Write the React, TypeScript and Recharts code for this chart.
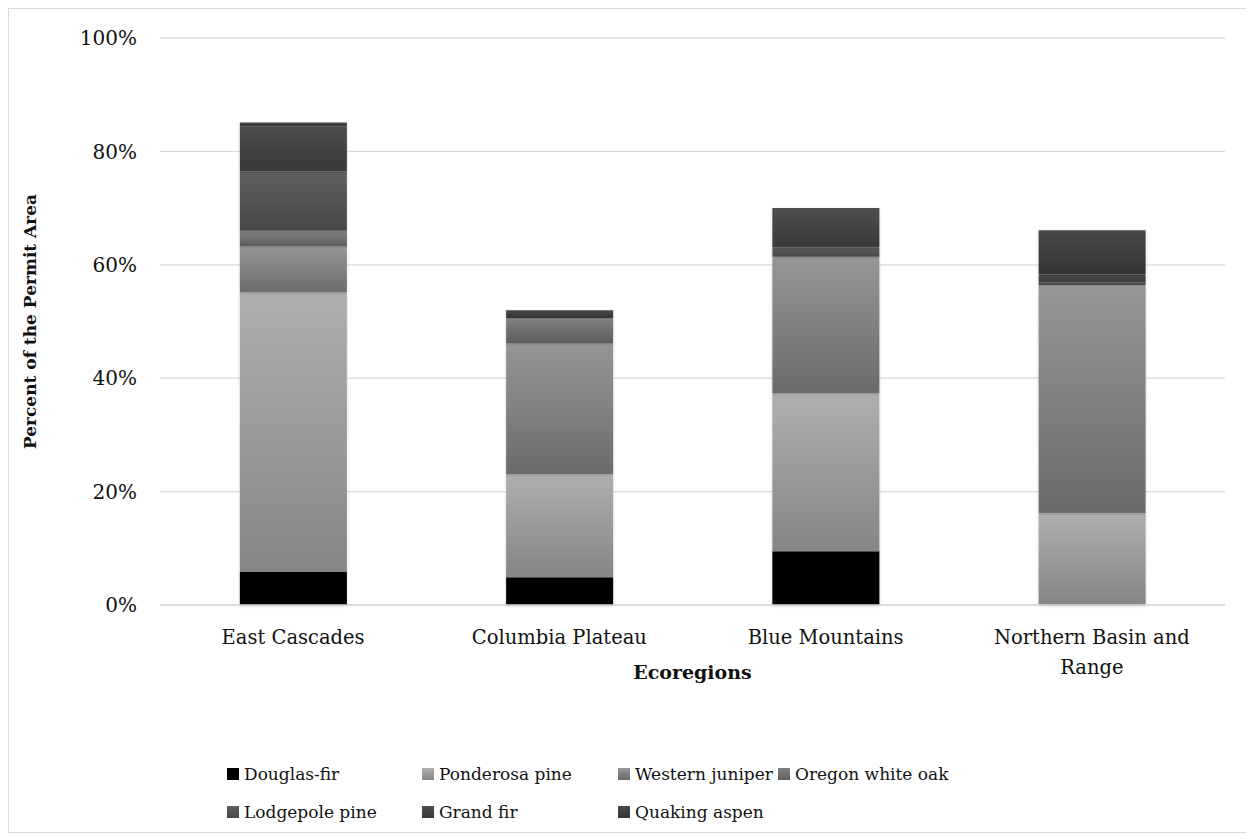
import React from "react";
import {
  Bar,
  BarChart,
  CartesianGrid,
  Label,
  Legend,
  XAxis,
  YAxis,
} from "recharts";

const regions = [
  "East Cascades",
  "Columbia Plateau",
  "Blue Mountains",
  "Northern Basin and\nRange",
];

// percent of permit area, per region, bottom of the stack first
const douglasFir = [5.8, 4.9, 9.5, 0];
const ponderosaPine = [49.4, 18.2, 27.9, 16.2];
const westernJuniper = [8.1, 23.1, 24.0, 40.2];
const oregonWhiteOak = [2.7, 4.4, 0, 0];
const lodgepolePine = [10.5, 0, 1.7, 0.5];
const grandFir = [7.9, 0, 6.9, 1.4];
const quakingAspen = [0.7, 1.4, 0, 7.8];

const yTicks = [0, 20, 40, 60, 80, 100];

const species = [
  { key: "douglasFir", name: "Douglas-fir", top: "#000000", bottom: "#000000" },
  { key: "ponderosaPine", name: "Ponderosa pine", top: "#afafaf", bottom: "#858585" },
  { key: "westernJuniper", name: "Western juniper", top: "#969696", bottom: "#6b6b6b" },
  { key: "oregonWhiteOak", name: "Oregon white oak", top: "#838383", bottom: "#5c5c5c" },
  { key: "lodgepolePine", name: "Lodgepole pine", top: "#5f5f5f", bottom: "#474747" },
  { key: "grandFir", name: "Grand fir", top: "#4d4d4d", bottom: "#393939" },
  { key: "quakingAspen", name: "Quaking aspen", top: "#484848", bottom: "#353535" },
];

const data = regions.map((region, i) => ({
  region,
  douglasFir: douglasFir[i],
  ponderosaPine: ponderosaPine[i],
  westernJuniper: westernJuniper[i],
  oregonWhiteOak: oregonWhiteOak[i],
  lodgepolePine: lodgepolePine[i],
  grandFir: grandFir[i],
  quakingAspen: quakingAspen[i],
}));

const FONT = "'DejaVu Serif', serif";
const TEXT = "#111";

function RegionTick({ x, y, payload }: any) {
  const lines = String(payload.value).split("\n");
  return (
    <text x={x} y={y} textAnchor="middle" fontFamily={FONT} fontSize={19.5} fill={TEXT}>
      {lines.map((l, i) => (
        <tspan key={i} x={x} dy={i === 0 ? 14 : 30}>
          {l}
        </tspan>
      ))}
    </text>
  );
}

function YTitle({ viewBox }: any) {
  const cx = 21;
  const cy = viewBox.y + viewBox.height / 2;
  return (
    <text
      x={cx}
      y={cy}
      transform={`rotate(-90 ${cx} ${cy})`}
      textAnchor="middle"
      dominantBaseline="central"
      fontFamily={FONT}
      fontSize={17}
      fontWeight="bold"
      fill={TEXT}
    >
      Percent of the Permit Area
    </text>
  );
}

function LegendBox() {
  const rows = [species.slice(0, 4), species.slice(4)];
  const colX = [0, 195, 391, 551];
  return (
    <div style={{ fontFamily: FONT, fontSize: 17, color: TEXT, lineHeight: "38px" }}>
      {rows.map((row, r) => (
        <div key={r} style={{ position: "relative", height: 38 }}>
          {row.map((s, c) => (
            <div
              key={s.key}
              style={{
                position: "absolute",
                left: colX[c],
                top: 0,
                height: 38,
                display: "flex",
                alignItems: "center",
                whiteSpace: "nowrap",
              }}
            >
              <span
                style={{
                  display: "inline-block",
                  width: 12,
                  height: 12,
                  marginRight: 5,
                  background: `linear-gradient(${s.top}, ${s.bottom})`,
                }}
              />
              {s.name}
            </div>
          ))}
        </div>
      ))}
    </div>
  );
}

export default function App() {
  return (
    <div
      style={{
        width: 1238,
        height: 823,
        border: "1px solid #d9d9d9",
        background: "#fff",
        position: "relative",
      }}
    >
      <BarChart
        width={1238}
        height={823}
        data={data}
        margin={{ top: 29, right: 22, left: 0, bottom: 0 }}
        barCategoryGap="30%"
      >
        <defs>
          {species.map((s) => (
            <linearGradient key={s.key} id={`grad-${s.key}`} x1="0" y1="0" x2="0" y2="1">
              <stop offset="0%" stopColor={s.top} />
              <stop offset="100%" stopColor={s.bottom} />
            </linearGradient>
          ))}
          <filter id="barShadow" x="-10%" y="-10%" width="120%" height="120%">
            <feDropShadow dx="0" dy="1" stdDeviation="1.5" floodColor="#000" floodOpacity="0.18" />
          </filter>
        </defs>
        <CartesianGrid vertical={false} stroke="#d9d9d9" strokeWidth={1.3} />
        <XAxis
          dataKey="region"
          height={227}
          tickLine={false}
          axisLine={{ stroke: "#d9d9d9", strokeWidth: 1.3 }}
          tickMargin={19}
          tick={<RegionTick />}
          interval={0}
        >
          <Label
            value="Ecoregions"
            position="insideTop"
            offset={61}
            fontFamily={FONT}
            fontSize={19}
            fontWeight="bold"
            fill={TEXT}
          />
        </XAxis>
        <YAxis
          width={151}
          domain={[0, 100]}
          ticks={yTicks}
          tickFormatter={(v) => `${v}%`}
          tickLine={false}
          axisLine={false}
          tickMargin={17}
          tick={{ fontFamily: FONT, fontSize: 20, fill: TEXT }}
          label={<YTitle />}
        />
        <Legend
          layout="horizontal"
          verticalAlign="middle"
          align="center"
          content={<LegendBox />}
          wrapperStyle={{ top: 746, left: 218, width: 800 }}
        />
        {species.map((s) => (
          <Bar
            key={s.key}
            dataKey={s.key}
            name={s.name}
            stackId="a"
            fill={`url(#grad-${s.key})`}
            filter="url(#barShadow)"
            isAnimationActive={false}
          />
        ))}
      </BarChart>
    </div>
  );
}
